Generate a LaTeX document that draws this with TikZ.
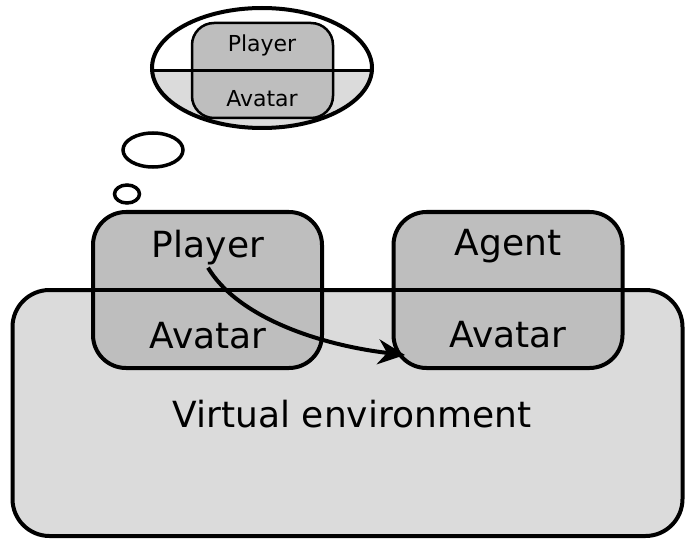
\documentclass[tikz,border=0pt]{standalone}
\usepackage{fontspec}
\setmainfont{DejaVu Sans}
\usetikzlibrary{shapes.geometric,arrows.meta}
\definecolor{envgray}{gray}{0.86}
\definecolor{boxgray}{gray}{0.745}
\begin{document}
\begin{tikzpicture}[x=1pt,y=-1pt,
		every node/.style={inner sep=0pt},
		outline/.style={draw=black,line width=4pt,outer sep=0pt},
		pane/.style={outline,fill=boxgray,rounded corners=33pt,minimum width=229pt,minimum height=156pt},
		big/.style={font=\fontsize{36}{40}\selectfont,anchor=base,inner sep=3pt},
		small/.style={font=\fontsize{22}{26}\selectfont,anchor=base},
		puff/.style={ellipse,draw=black,line width=3.5pt,outer sep=0pt}]
				\useasboundingbox (0,0) rectangle (685,540);
				\node [outline,fill=envgray,rounded corners=37pt,minimum width=670pt,minimum height=246pt] (env) at (347.5,413) {};
				\node [pane] (pbox) at (207.5,290) {};
				\node [pane] (abox) at (508,290) {};
				\draw [line width=4pt] ([xshift=37pt]env.north west) -- ([xshift=-37pt]env.north east);
				\node [big] (ptext) at (208,257) {Player};
				\node [big] (pavat) at (208,348) {Avatar};
				\node [big] (atext) at (508,255) {Agent};
				\node [big] (aavat) at (508,347) {Avatar};
				\node [big] (envtext) at (352,427) {Virtual environment};
				\begin{scope}
				\clip (262,68) ellipse [x radius=110, y radius=60];
				\fill [envgray] (150,70.5) rectangle (375,130);
				\end{scope}
				\node [draw=black,line width=2.5pt,fill=boxgray,rounded corners=22pt,minimum width=141pt,minimum height=95pt] (mbox) at (262.5,70.5) {};
				\node [puff,line width=4pt,minimum width=220pt,minimum height=120pt] (dream) at (262,68) {};
				\draw [line width=3pt] (dream.west |- mbox.center) -- (dream.east |- mbox.center);
				\node [small] (mtext) at (262,52) {Player};
				\node [small] (mavat) at (262,107) {Avatar};
				\node [puff,minimum width=60pt,minimum height=34pt] (puffA) at (153,150) {};
				\node [puff,minimum width=25pt,minimum height=18pt] (puffB) at (127,194) {};
				\coordinate (hit) at (405,355);
				\draw [line width=4pt,-{Stealth[length=27pt,width=25pt,inset=9pt]}] (ptext.south) .. controls +(30,50) and +(-85,-10) .. (hit);
\end{tikzpicture}
\end{document}
